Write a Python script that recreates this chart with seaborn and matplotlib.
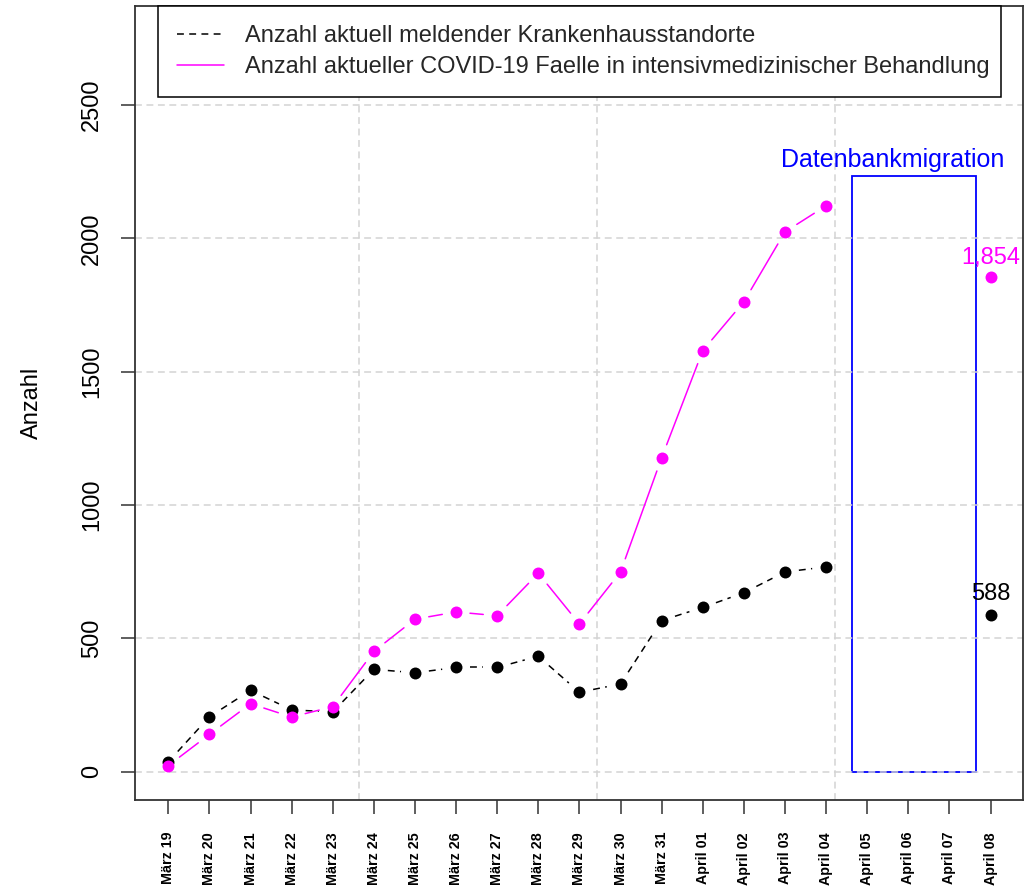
import numpy as np
import pandas as pd
import matplotlib
matplotlib.use("Agg")
import matplotlib.pyplot as plt
from matplotlib.lines import Line2D
from matplotlib.patches import Rectangle
import seaborn as sns

# ── Data ──────────────────────────────────────────────────────────────────────
dates = ["März 19", "März 20", "März 21", "März 22", "März 23", "März 24",
         "März 25", "März 26", "März 27", "März 28", "März 29", "März 30",
         "März 31", "April 01", "April 02", "April 03", "April 04",
         "April 05", "April 06", "April 07", "April 08"]
standorte = [37, 206, 305, 232, 224, 384, 371, 391, 391, 433, 298, 329,
             567, 616, 671, 749, 768, np.nan, np.nan, np.nan, 588]
faelle = [23, 140, 255, 205, 244, 451, 572, 599, 585, 744, 554, 749,
          1177, 1579, 1762, 2024, 2122, np.nan, np.nan, np.nan, 1854]
yticks = [0, 500, 1000, 1500, 2000, 2500]
label_standorte = "Anzahl aktuell meldender Krankenhausstandorte"
label_faelle = "Anzahl aktueller COVID-19 Faelle in intensivmedizinischer Behandlung"

# migration box (x in day index, y in Anzahl)
mig_x0, mig_x1, mig_top = 16.63, 19.64, 2235
mig_text_x, mig_text_y = 17.62, 2292
vgrid = [4.64, 10.42, 16.21]

df = pd.DataFrame({"idx": np.arange(len(dates)), "standorte": standorte, "faelle": faelle})

# ── Style ─────────────────────────────────────────────────────────────────────
sns.set_theme(style="white")
plt.rcParams["font.family"] = ["Liberation Sans", "DejaVu Sans"]

BLACK, MAGENTA, BLUE, GRID = "#000000", "#FF00FF", "#0000FF", "#D3D3D3"

fig = plt.figure(figsize=(10.26, 8.9), dpi=100)
ax = fig.add_axes([135 / 1026, 1 - 800 / 890, 888 / 1026, 794 / 890])
ax.set_xlim(-0.81, 20.79)
ax.set_ylim(-106, 2871)

# grid
ax.set_axisbelow(True)
ax.set_yticks(yticks)
ax.grid(axis="y", color=GRID, linestyle=(0, (4.5, 3)), linewidth=1.1)
for gx in vgrid:
    ax.axvline(gx, color=GRID, linestyle=(0, (4.5, 3)), linewidth=1.1, zorder=0.5)

# migration box (under the grid, like the original)
ax.add_patch(Rectangle((mig_x0, 0), mig_x1 - mig_x0, mig_top, fill=False,
                       edgecolor=BLUE, linewidth=1.3, zorder=0.4))
ax.text(mig_text_x, mig_text_y, "Datenbankmigration", color=BLUE,
        fontsize=18, ha="center", va="center")


# ── Lines with gaps around points (R type="b") ───────────────────────────────
def gapped_line(ax, xs, ys, gap_px=14, **kw):
    pts = ax.transData.transform(np.column_stack([xs, ys]))
    inv = ax.transData.inverted()
    for p0, p1 in zip(pts[:-1], pts[1:]):
        if np.isnan(p0).any() or np.isnan(p1).any():
            continue
        d = p1 - p0
        L = np.hypot(*d)
        if L <= 2 * gap_px:
            continue
        u = d / L
        a, b = inv.transform([p0 + u * gap_px, p1 - u * gap_px])
        ax.plot([a[0], b[0]], [a[1], b[1]], **kw)


gapped_line(ax, df["idx"], df["standorte"], color=BLACK, linewidth=1.1,
            linestyle=(0, (4.5, 3.5)), zorder=2)
sns.scatterplot(data=df, x="idx", y="standorte", color=BLACK, s=74,
                linewidth=0, ax=ax, zorder=3)
gapped_line(ax, df["idx"], df["faelle"], color=MAGENTA, linewidth=1.1, zorder=4)
sns.scatterplot(data=df, x="idx", y="faelle", color=MAGENTA, s=74,
                linewidth=0, ax=ax, zorder=5)

# last values
last = len(dates) - 1
ax.annotate(f"{faelle[last]:,.0f}", (last, faelle[last]), xytext=(0, 13.5),
            textcoords="offset points", ha="center", va="center",
            color=MAGENTA, fontsize=17)
ax.annotate(f"{standorte[last]:.0f}", (last, standorte[last]), xytext=(0, 15),
            textcoords="offset points", ha="center", va="center",
            color=BLACK, fontsize=17)

# ── Axes ──────────────────────────────────────────────────────────────────────
ax.set_xticks(range(len(dates)))
ax.set_xticklabels(dates, rotation=90, fontsize=10.3, fontweight="bold", va="top")
ax.set_yticklabels([str(v) for v in yticks], rotation=90, fontsize=17, va="center")
ax.tick_params(axis="both", direction="out", length=10, width=1.1, color="#333333",
               labelcolor="black")
ax.tick_params(axis="x", pad=13, bottom=True)
ax.tick_params(axis="y", pad=13, left=True)
ax.set_xlabel("")
ax.set_ylabel("Anzahl", fontsize=17, color="black")
ax.yaxis.set_label_coords(-0.104, 0.5)
for spine in ax.spines.values():
    spine.set_visible(True)
    spine.set_color("#333333")
    spine.set_linewidth(1.3)

handles = [Line2D([], [], color=BLACK, linewidth=1.1, linestyle=(0, (4.5, 3.5))),
           Line2D([], [], color=MAGENTA, linewidth=1.1)]
leg = ax.legend(handles, [label_standorte, label_faelle], loc="upper left",
                bbox_to_anchor=(23 / 888, 0, 843 / 888, 1.0), mode="expand",
                borderaxespad=0, fontsize=17, frameon=True, fancybox=False,
                handlelength=2.0, handletextpad=0.9, borderpad=0.8,
                labelspacing=0.4)
leg.get_frame().set_edgecolor("black")
leg.get_frame().set_linewidth(1.1)
leg.get_frame().set_alpha(1)

fig.savefig("out.png", dpi=100)
